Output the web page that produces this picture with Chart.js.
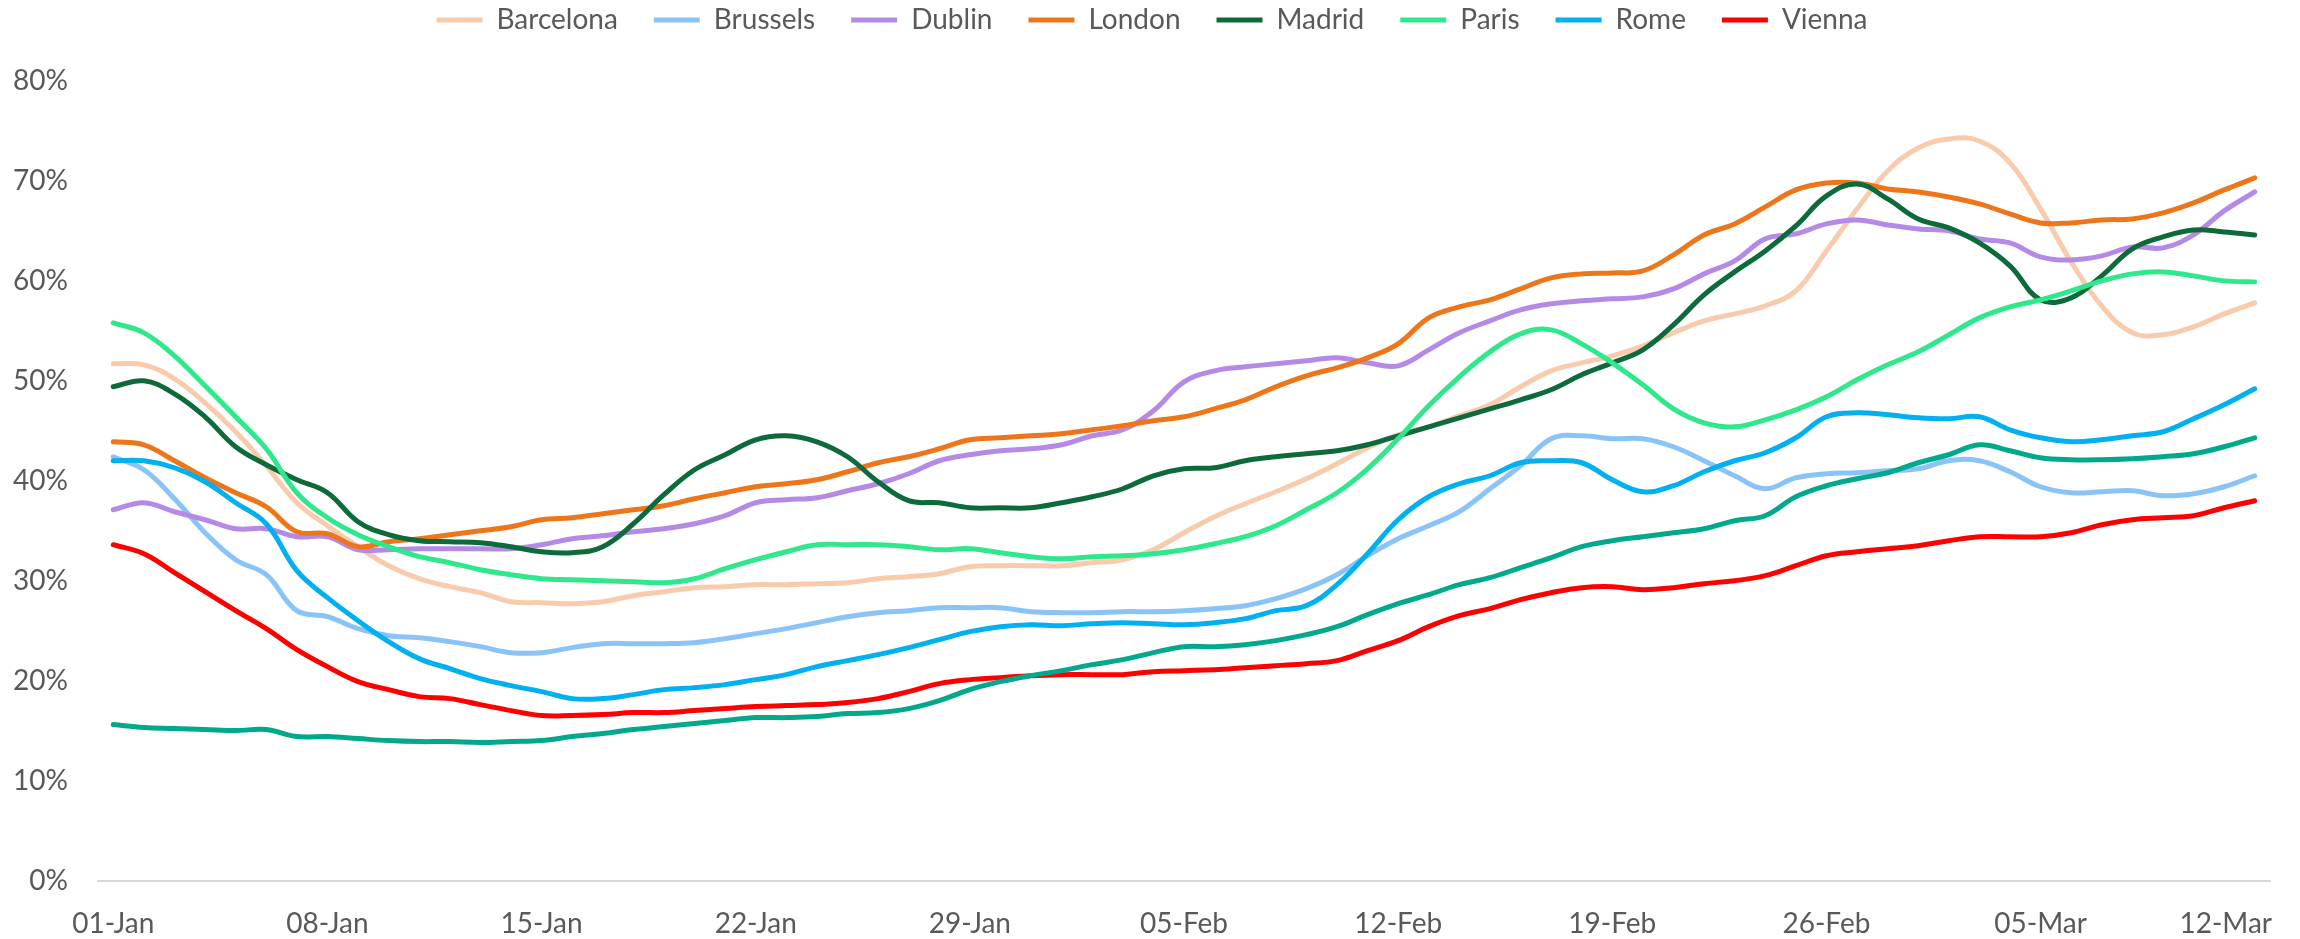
<!DOCTYPE html>
<html><head><meta charset="utf-8">
<script src="https://cdn.jsdelivr.net/npm/chart.js@4.4.1/dist/chart.umd.min.js"></script>
<style>html,body{margin:0;padding:0;background:#fff;}canvas{display:block;}</style>
</head><body>
<canvas id="c" width="2300" height="939"></canvas>
<script>
const categories = [
 '01-Jan','02-Jan','03-Jan','04-Jan','05-Jan','06-Jan','07-Jan','08-Jan','09-Jan','10-Jan',
 '11-Jan','12-Jan','13-Jan','14-Jan','15-Jan','16-Jan','17-Jan','18-Jan','19-Jan','20-Jan',
 '21-Jan','22-Jan','23-Jan','24-Jan','25-Jan','26-Jan','27-Jan','28-Jan','29-Jan','30-Jan','31-Jan',
 '01-Feb','02-Feb','03-Feb','04-Feb','05-Feb','06-Feb','07-Feb','08-Feb','09-Feb','10-Feb',
 '11-Feb','12-Feb','13-Feb','14-Feb','15-Feb','16-Feb','17-Feb','18-Feb','19-Feb','20-Feb',
 '21-Feb','22-Feb','23-Feb','24-Feb','25-Feb','26-Feb','27-Feb','28-Feb',
 '01-Mar','02-Mar','03-Mar','04-Mar','05-Mar','06-Mar','07-Mar','08-Mar','09-Mar','10-Mar','11-Mar','12-Mar'
];
const xTickLabels = ['01-Jan','08-Jan','15-Jan','22-Jan','29-Jan','05-Feb','12-Feb','19-Feb','26-Feb','05-Mar','12-Mar'];
const yTickValues = [0,10,20,30,40,50,60,70,80];

const barcelona = [51.7,51.6,50.2,47.8,44.9,41.5,37.8,35.5,33.4,31.5,30.2,29.4,28.8,
 27.9,27.8,27.7,27.9,28.5,28.9,29.3,29.4,29.6,29.6,29.7,
 29.8,30.2,30.4,30.7,31.4,31.5,31.5,31.5,31.8,32.1,33.1,34.8,
 36.4,37.7,38.9,40.2,41.7,43.3,44.6,45.4,46.5,47.6,49.4,51.0,
 51.8,52.5,53.5,54.8,56.0,56.7,57.5,59.0,63.0,67.2,71.0,73.3,
 74.2,74.0,71.8,67.2,61.9,57.5,54.8,54.6,55.4,56.7,57.8];
const brussels = [42.4,41.1,38.2,34.8,32.1,30.6,27.0,26.4,25.2,24.5,24.3,23.9,23.4,
 22.8,22.8,23.3,23.7,23.7,23.7,23.8,24.2,24.7,25.2,25.8,
 26.4,26.8,27.0,27.3,27.3,27.3,26.9,26.8,26.8,26.9,26.9,27.0,
 27.2,27.5,28.2,29.2,30.6,32.5,34.2,35.5,36.9,39.2,41.5,44.2,
 44.5,44.2,44.2,43.4,42.0,40.5,39.2,40.3,40.7,40.8,41.0,41.2,
 42.0,42.0,40.9,39.4,38.8,38.9,39.0,38.5,38.7,39.4,40.5];
const dublin = [37.1,37.8,36.9,36.1,35.2,35.2,34.4,34.4,33.1,33.1,33.2,33.2,33.2,
 33.2,33.6,34.2,34.5,34.9,35.2,35.7,36.5,37.8,38.1,38.3,
 39.0,39.7,40.7,42.0,42.6,43.0,43.2,43.6,44.5,45.1,47.0,49.9,
 51.0,51.4,51.7,52.0,52.3,51.8,51.5,53.1,54.8,56.0,57.1,57.7,
 58.0,58.2,58.4,59.2,60.7,62.0,64.2,64.7,65.7,66.1,65.6,65.2,
 65.0,64.2,63.8,62.4,62.1,62.5,63.4,63.3,64.6,67.0,68.9];
const london = [43.9,43.6,42.0,40.3,38.8,37.4,34.9,34.7,33.4,33.9,34.2,34.6,35.0,
 35.4,36.1,36.3,36.7,37.1,37.5,38.2,38.8,39.4,39.7,40.1,
 40.9,41.8,42.4,43.2,44.1,44.3,44.5,44.7,45.1,45.5,46.0,46.4,
 47.2,48.1,49.4,50.5,51.3,52.3,53.7,56.3,57.4,58.1,59.2,60.3,
 60.7,60.8,61.0,62.6,64.6,65.7,67.4,69.1,69.8,69.8,69.2,68.9,
 68.4,67.7,66.7,65.8,65.8,66.1,66.2,66.8,67.8,69.1,70.3];
const madrid = [49.4,50.0,48.7,46.4,43.4,41.6,40.1,38.8,35.9,34.6,34.0,33.9,33.8,
 33.4,32.9,32.8,33.4,35.7,38.6,41.1,42.6,44.1,44.5,43.9,
 42.4,39.9,38.0,37.8,37.3,37.3,37.3,37.8,38.4,39.2,40.5,41.2,
 41.3,42.0,42.4,42.7,43.0,43.6,44.5,45.4,46.3,47.2,48.1,49.1,
 50.6,51.8,53.1,55.6,58.6,60.9,63.0,65.5,68.5,69.7,68.2,66.2,
 65.3,63.8,61.5,58.1,58.3,60.5,63.2,64.4,65.1,64.9,64.6];
const paris = [55.8,54.8,52.5,49.5,46.4,43.2,38.8,36.3,34.6,33.4,32.4,31.8,31.1,
 30.6,30.2,30.1,30.0,29.9,29.8,30.2,31.2,32.1,32.9,33.6,
 33.6,33.6,33.4,33.1,33.2,32.8,32.4,32.2,32.4,32.5,32.7,33.1,
 33.7,34.4,35.5,37.1,38.8,41.2,44.2,47.5,50.4,52.9,54.7,55.1,
 53.7,51.8,49.6,47.2,45.8,45.4,46.1,47.1,48.4,50.1,51.6,52.9,
 54.6,56.3,57.4,58.1,59.0,60.0,60.7,60.9,60.5,60.0,59.9];
const rome = [42.0,42.0,41.3,39.9,37.8,35.7,31.0,28.3,26.0,23.9,22.2,21.2,20.2,
 19.5,18.9,18.2,18.2,18.6,19.1,19.3,19.6,20.1,20.6,21.4,
 22.0,22.6,23.3,24.1,24.9,25.4,25.6,25.5,25.7,25.8,25.7,25.6,
 25.8,26.2,27.0,27.5,29.6,32.7,36.1,38.4,39.7,40.5,41.8,42.0,
 41.8,40.1,38.9,39.5,40.9,42.0,42.8,44.3,46.4,46.8,46.6,46.3,
 46.2,46.4,45.1,44.3,43.9,44.1,44.5,44.9,46.2,47.6,49.2];
const vienna = [33.6,32.7,30.8,28.9,27.0,25.2,23.1,21.4,19.9,19.1,18.4,18.2,17.6,
 17.0,16.5,16.5,16.6,16.8,16.8,17.0,17.2,17.4,17.5,17.6,
 17.8,18.2,18.9,19.7,20.1,20.3,20.5,20.6,20.6,20.6,20.9,21.0,
 21.1,21.3,21.5,21.7,22.0,23.0,24.0,25.4,26.5,27.2,28.1,28.8,
 29.3,29.4,29.1,29.3,29.7,30.0,30.5,31.5,32.5,32.9,33.2,33.5,
 34.0,34.4,34.4,34.4,34.8,35.6,36.1,36.3,36.5,37.3,38.0];
const unlabelled = [15.6,15.3,15.2,15.1,15.0,15.1,14.4,14.4,14.2,14.0,13.9,13.9,13.8,
 13.9,14.0,14.4,14.7,15.1,15.4,15.7,16.0,16.3,16.3,16.4,
 16.7,16.8,17.2,18.0,19.1,19.9,20.5,21.0,21.6,22.1,22.8,23.4,
 23.4,23.6,24.0,24.6,25.4,26.6,27.7,28.6,29.6,30.3,31.3,32.3,
 33.4,34.0,34.4,34.8,35.2,36.0,36.5,38.4,39.5,40.2,40.8,41.8,
 42.6,43.6,43.0,42.3,42.1,42.1,42.2,42.4,42.7,43.4,44.3];

const seriesNames = ['Barcelona','Brussels','Dublin','London','Madrid','Paris','Rome','Vienna',''];
const seriesValues = [barcelona,brussels,dublin,london,madrid,paris,rome,vienna,unlabelled];
const seriesColors = ['#F8CBAD','#8AC3F7','#B48AE6','#EE761A','#0D6B3B','#2EE88B','#00B0F0','#FF0000','#00A98B'];
const legendCount = 8;

Chart.defaults.font.family = 'Lato, "Noto Sans", sans-serif';
Chart.defaults.color = '#595959';

const LEGEND_TOP = -30;
const LEGEND_H = 81;

const layoutFix = {
  id: 'layoutFix',
  beforeLayout(chart) {
    const lg = chart.legend;
    if (lg && !lg._patched) {
      const f = lg.fit;
      lg.fit = function () { f.call(this); this.height = LEGEND_H; };
      lg._patched = true;
    }
  },
  beforeDraw(chart) {
    const lg = chart.legend;
    if (lg) { lg.top = LEGEND_TOP; lg.left = 0; lg.right = 2304; }
    // keep the last x label inside the axis end, as the reference does
    const xs = chart.scales.x;
    const items = xs.getLabelItems(chart.chartArea);
    for (let k = items.length - 1; k >= 0; k--) {
      if (items[k].label) {
        items[k].options.textAlign = 'right';
        items[k].options.translation = [xs.right + 2, items[k].options.translation[1]];
        break;
      }
    }
  }
};

new Chart(document.getElementById('c'), {
  type: 'line',
  data: {
    labels: categories,
    datasets: seriesValues.map((vals, i) => ({
      label: seriesNames[i],
      data: vals,
      borderColor: seriesColors[i],
      backgroundColor: seriesColors[i],
      borderWidth: 5,
      pointRadius: 0,
      pointHoverRadius: 0,
      tension: 0.4,
      borderCapStyle: 'round',
      borderJoinStyle: 'round',
      fill: false,
      order: seriesValues.length - 1 - i
    }))
  },
  plugins: [layoutFix],
  options: {
    responsive: false,
    animation: false,
    devicePixelRatio: 1,
    layout: { padding: { left: 0, right: 30, top: 0, bottom: 0 } },
    plugins: {
      tooltip: { enabled: false },
      legend: {
        position: 'top',
        align: 'center',
        labels: {
          usePointStyle: true,
          pointStyle: 'line',
          pointStyleWidth: 46,
          padding: 36,
          color: '#595959',
          font: { size: 28 },
          filter: (item) => item.datasetIndex < legendCount,
          sort: (a, b) => a.datasetIndex - b.datasetIndex
        }
      }
    },
    scales: {
      x: {
        offset: true,
        grid: { display: false, drawTicks: false },
        border: { display: true, color: '#D9D9D9', width: 2 },
        ticks: {
          autoSkip: false,
          maxRotation: 0,
          minRotation: 0,
          padding: 27,
          color: '#595959',
          font: { size: 28 },
          callback: function (v, i) { const l = categories[i]; return xTickLabels.includes(l) ? l : ''; }
        },
        afterFit: (s) => { s.height = 58.5; s.paddingLeft = 0; s.paddingRight = 0; }
      },
      y: {
        min: 0,
        max: 80,
        grid: { display: false, drawTicks: false },
        border: { display: false },
        afterBuildTicks: (s) => { s.ticks = yTickValues.map(v => ({ value: v })); },
        ticks: {
          padding: 30,
          color: '#595959',
          font: { size: 28 },
          callback: (v) => v + '%'
        },
        afterFit: (s) => { s.width = 98; }
      }
    }
  }
});
</script>
</body></html>
